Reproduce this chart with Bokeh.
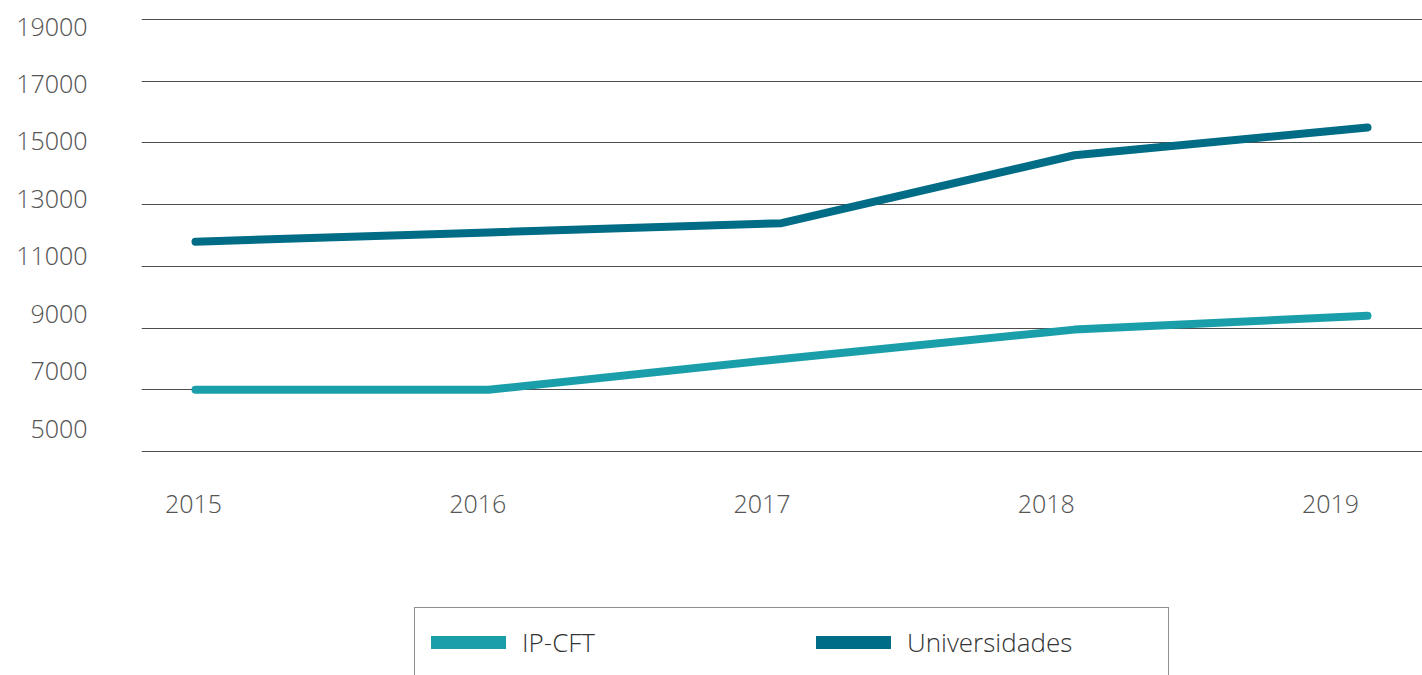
from bokeh.plotting import figure
from bokeh.models import (Range1d, LinearAxis, FixedTicker, Legend, LegendItem)
from bokeh.embed import file_html
from bokeh.resources import INLINE

# ---- data ----
years = [2015, 2016, 2017, 2018, 2019]
ip_cft = [7000, 7000, 8000, 8950, 9400]
universidades = [11800, 12100, 12400, 14600, 15500]
y_ticks = [5000, 7000, 9000, 11000, 13000, 15000, 17000, 19000]
series_names = ["IP-CFT", "Universidades"]

FONT = "Open Sans Light"
TEXT = "#555555"
C_IP = "#1a9faa"
C_UN = "#006c86"

p = figure(width=1422, height=675, output_backend="svg", toolbar_location=None,
           x_range=Range1d(2014.8157, 2019.1877),
           y_range=Range1d(-2259.3, 19615.7),
           min_border_left=141, min_border_right=0, min_border_top=0, min_border_bottom=0)
p.outline_line_color = None
p.background_fill_color = "white"
p.border_fill_color = "white"

p.extra_x_ranges = {"lab": Range1d(2014.8171, 2019.3237)}
p.extra_y_ranges = {"lab": Range1d(-3602.0, 19905.5)}

p.xaxis.visible = False
p.yaxis.visible = False
p.xgrid.visible = False
p.ygrid.ticker = FixedTicker(ticks=y_ticks)
p.ygrid.grid_line_color = "#4d4d4d"
p.ygrid.grid_line_width = 1.2

yax = LinearAxis(y_range_name="lab", ticker=FixedTicker(ticks=y_ticks))
yax.axis_line_color = None
yax.major_tick_line_color = None
yax.minor_tick_line_color = None
yax.major_label_standoff = 48
yax.major_label_text_font = FONT
yax.major_label_text_font_size = "25px"
yax.major_label_text_color = TEXT
p.add_layout(yax, "left")

xax = LinearAxis(x_range_name="lab", ticker=FixedTicker(ticks=years), fixed_location=4416.7)
xax.axis_line_color = None
xax.major_tick_line_color = None
xax.minor_tick_line_color = None
xax.major_label_standoff = 20
xax.major_label_text_font = FONT
xax.major_label_text_font_size = "25px"
xax.major_label_text_color = TEXT
p.add_layout(xax, "below")

p.line(years, ip_cft, line_color=C_IP, line_width=8, line_cap="round", line_join="round")
p.line(years, universidades, line_color=C_UN, line_width=8, line_cap="round", line_join="round")

# legend-only renderers (thicker swatches), hidden in the plot area
lg_ip = p.line(years, ip_cft, line_color=C_IP, line_width=13, line_cap="round", visible=False)
lg_un = p.line(years, universidades, line_color=C_UN, line_width=13, line_cap="round", visible=False)

legend = Legend(items=[LegendItem(label=series_names[0], renderers=[lg_ip]),
                       LegendItem(label=series_names[1], renderers=[lg_un])],
                orientation="horizontal", location=(273, -2), click_policy="none")
legend.inactive_fill_alpha = 0
legend.border_line_color = "#222222"
legend.border_line_width = 1.5
legend.background_fill_alpha = 1
legend.padding = 16
legend.margin = 0
legend.glyph_width = 75
legend.glyph_height = 20
legend.label_standoff = 16
legend.label_width = 245
legend.spacing = 49
legend.label_text_font = FONT
legend.label_text_font_size = "26px"
legend.label_text_color = "#333333"
p.add_layout(legend)

open("out.html", "w").write(file_html(p, INLINE))
